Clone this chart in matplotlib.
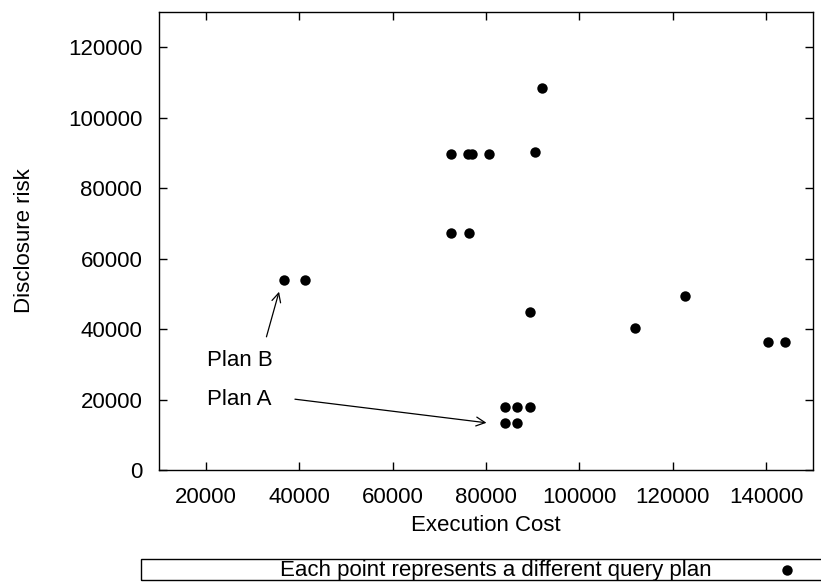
import matplotlib
matplotlib.use("Agg")
import matplotlib.pyplot as plt
from matplotlib.patches import Rectangle
from matplotlib.lines import Line2D

plt.rcParams['font.family'] = ['Liberation Sans', 'DejaVu Sans']

# Data: execution cost vs disclosure risk for each query plan
exec_cost = [36700, 41200,
             84000, 86600, 89400, 84000, 86600,
             89400,
             72600, 76200, 77100, 80600, 90400,
             72600, 76300,
             92000,
             122600, 111800, 140400, 144000]
disclosure = [53800, 53800,
              18000, 18000, 18000, 13400, 13400,
              44800,
              89600, 89600, 89600, 89600, 90400,
              67200, 67200,
              108300,
              49300, 40400, 36300, 36300]

x_ticks = [20000, 40000, 60000, 80000, 100000, 120000, 140000]
y_ticks = [0, 20000, 40000, 60000, 80000, 100000, 120000]

FS = 16

fig = plt.figure(figsize=(8.21, 5.82), dpi=100)
ax = fig.add_axes([159/821, (582-470)/582, 654/821, 458/582])

ax.plot(exec_cost, disclosure, linestyle='none', marker='o', color='black',
        markersize=7.5, markeredgewidth=0)

ax.set_xlim(10000, 150000)
ax.set_ylim(0, 130000)
ax.set_xticks(x_ticks)
ax.set_yticks(y_ticks)
ax.tick_params(direction='in', length=6, width=1, top=True, right=True,
               labelsize=FS, colors='black')
ax.tick_params(axis='y', pad=12)
ax.tick_params(axis='x', pad=12)
for s in ax.spines.values():
    s.set_linewidth(1)

ax.set_xlabel('Execution Cost', fontsize=FS, labelpad=5)
ax.set_ylabel('Disclosure risk', fontsize=FS, labelpad=24)

ax.annotate('', xy=(35700, 50600), xytext=(33000, 37800),
            arrowprops=dict(arrowstyle='->', color='black', lw=0.9,
                            mutation_scale=16, shrinkA=0, shrinkB=0))
ax.annotate('', xy=(80100, 13400), xytext=(39100, 20100),
            arrowprops=dict(arrowstyle='->', color='black', lw=0.9,
                            mutation_scale=16, shrinkA=0, shrinkB=0))
ax.text(20200, 31200, 'Plan B', fontsize=FS, ha='left', va='center')
ax.text(20200, 19900, 'Plan A', fontsize=FS, ha='left', va='center')

# Key box below the plot
fig.patches.append(Rectangle((141/821, 2/582), 700/821, 21/582,
                             transform=fig.transFigure, fill=False,
                             edgecolor='black', linewidth=1))
fig.text(712/821, 1 - 576/582, 'Each point represents a different query plan',
         fontsize=FS, ha='right', va='baseline')
fig.lines.append(Line2D([787/821], [1 - 570/582], transform=fig.transFigure,
                        marker='o', color='black', markersize=7.5,
                        markeredgewidth=0, linestyle='none'))

fig.savefig('out.png', dpi=100)
